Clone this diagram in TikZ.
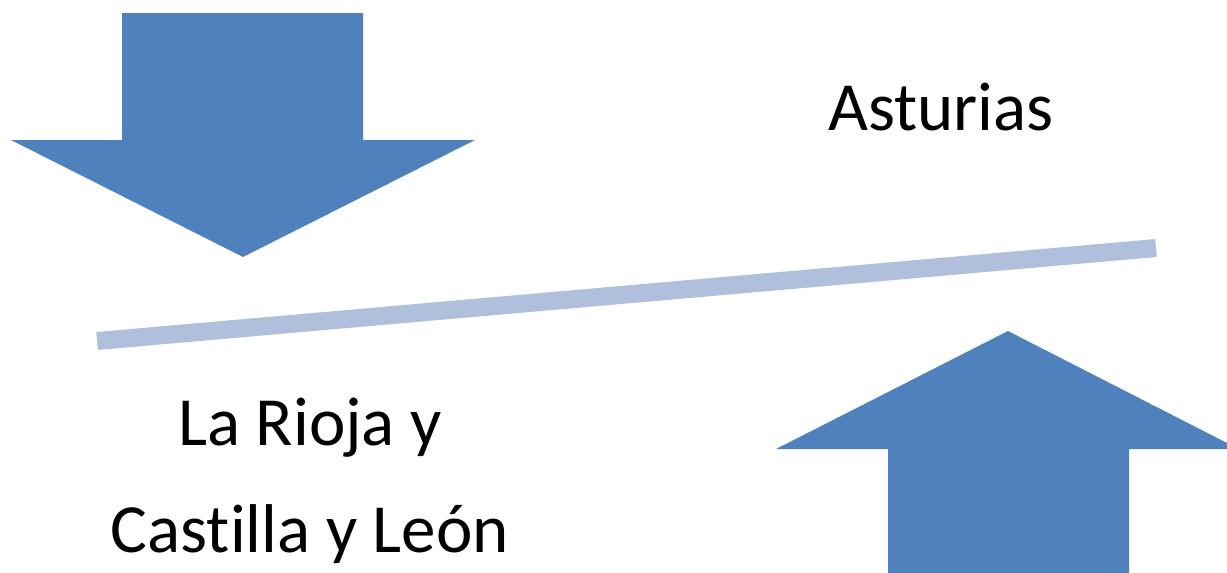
\documentclass[tikz,border=0pt]{standalone}
\usepackage{fontspec}
\setmainfont[Ligatures=NoCommon]{Carlito}
\definecolor{arrowblue}{HTML}{4F81BD}
\definecolor{barblue}{HTML}{B0C0DC}
\begin{document}
\begin{tikzpicture}[x=1pt,y=-1pt,
  bigarrow/.style={fill=arrowblue,draw=none},
  label/.style={font=\fontsize{69}{107}\selectfont,align=center,inner sep=0pt,anchor=base}]
\useasboundingbox (0,0) rectangle (1227,573);
\fill[bigarrow] (122,13) -- (363,13) -- (363,140) -- (475,140) -- (243,257) -- (11,140) -- (122,140) -- cycle;
\fill[bigarrow] (888,573) -- (888,449) -- (776,449) -- (1008,331) -- (1227,443) -- (1227,449) -- (1129,449) -- (1129,573) -- cycle;
\coordinate (l1) at (97,341);
\coordinate (l2) at (1156,248);
\draw[barblue,line width=18pt] (l1) -- (l2);
\node[label] (ast) at (941,130) {Asturias};
\node[label] (rioja) at (310,445) {La Rioja y};
\node[label] (cast) at (310,552) {Castilla y León};
\end{tikzpicture}
\end{document}
